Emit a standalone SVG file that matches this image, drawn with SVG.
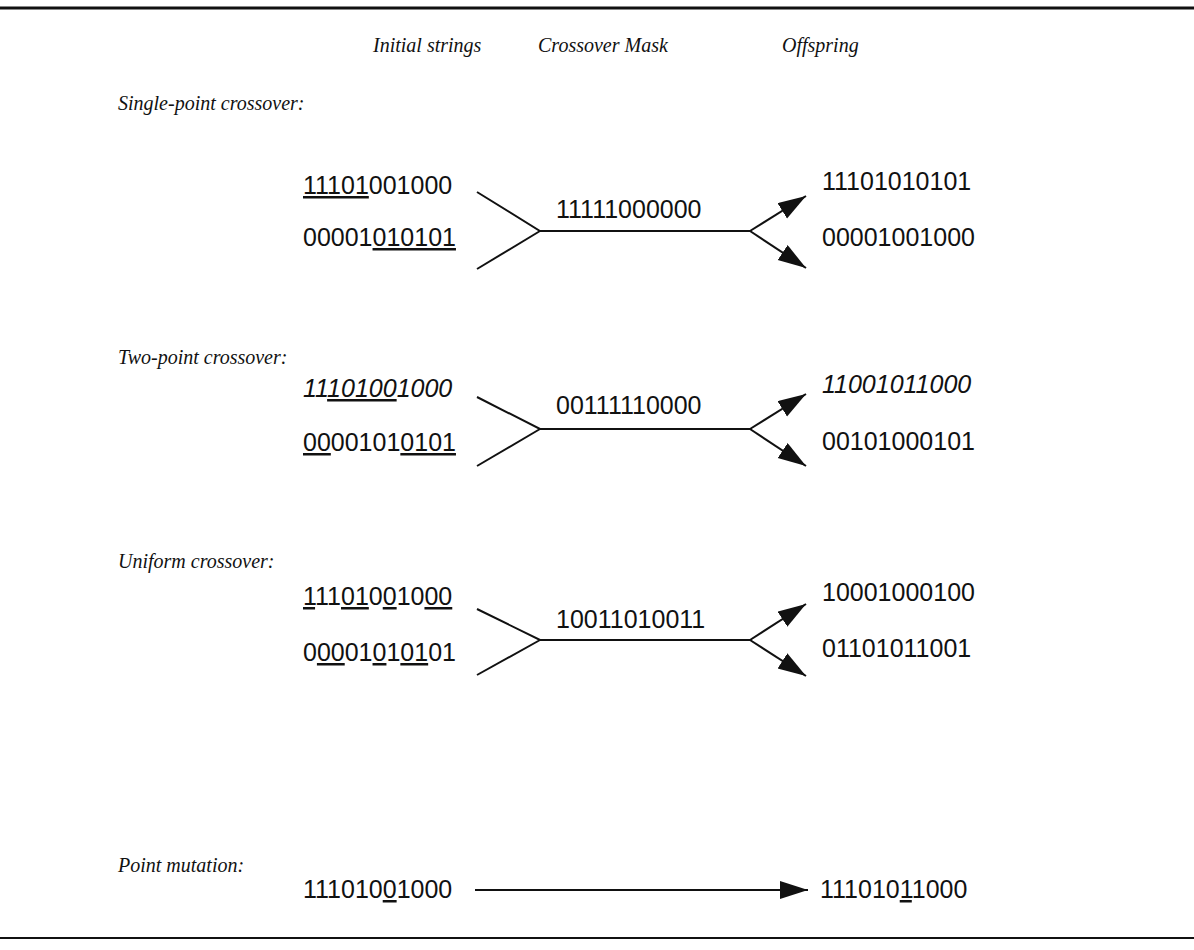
<svg xmlns="http://www.w3.org/2000/svg" width="1194" height="950" viewBox="0 0 1194 950">
<style>
.hdr{font-family:"Liberation Serif","Times New Roman",serif;font-style:italic;font-size:20px;fill:#111}
.bits{font-family:"Liberation Sans",Arial,sans-serif;font-size:25px;fill:#111}
.it{font-style:italic}
.u{text-decoration:underline}
.ln{stroke:#111;stroke-width:2;fill:none}
.rule{stroke:#111;fill:none}
</style>
<defs>
<marker id="ah" markerUnits="userSpaceOnUse" markerWidth="30" markerHeight="20" refX="28" refY="9" orient="auto">
<path d="M0,0 L28,9 L0,18 Z" fill="#111"/>
</marker>
</defs>
<rect width="1194" height="950" fill="#fff"/>
<line class="rule" x1="0" y1="8" x2="1194" y2="8" stroke-width="3"/>
<line class="rule" x1="0" y1="938" x2="1194" y2="938" stroke-width="2"/>
<g id="headers">
<text class="hdr" x="373" y="52">Initial strings</text>
<text class="hdr" x="538" y="52">Crossover Mask</text>
<text class="hdr" x="782" y="52">Offspring</text>
</g>
<g id="single">
<text class="hdr" x="118" y="110">Single-point crossover:</text>
<text class="bits" x="303" y="194"><tspan class="u">11101</tspan>001000</text>
<text class="bits" x="303" y="246">00001<tspan class="u">010101</tspan></text>
<text class="bits" x="556" y="218">11111000000</text>
<text class="bits" x="822" y="190">11101010101</text>
<text class="bits" x="822" y="246">00001001000</text>
</g>
<g id="twopoint">
<text class="hdr" x="118" y="364">Two-point crossover:</text>
<text class="bits it" x="303" y="397">11<tspan class="u">10100</tspan>1000</text>
<text class="bits" x="303" y="451"><tspan class="u">00</tspan>00101<tspan class="u">0101</tspan></text>
<text class="bits" x="556" y="414">00111110000</text>
<text class="bits it" x="822" y="393">11001011000</text>
<text class="bits" x="822" y="450">00101000101</text>
</g>
<g id="uniform">
<text class="hdr" x="118" y="568">Uniform crossover:</text>
<text class="bits" x="303" y="605"><tspan class="u">1</tspan>11<tspan class="u">01</tspan>0<tspan class="u">0</tspan>10<tspan class="u">00</tspan></text>
<text class="bits" x="303" y="661">0<tspan class="u">00</tspan>01<tspan class="u">0</tspan>1<tspan class="u">01</tspan>01</text>
<text class="bits" x="556" y="628">10011010011</text>
<text class="bits" x="822" y="601">10001000100</text>
<text class="bits" x="822" y="657">01101011001</text>
</g>
<g id="mutation">
<text class="hdr" x="118" y="872">Point mutation:</text>
<text class="bits" x="303" y="898">111010<tspan class="u">0</tspan>1000</text>
<text class="bits" x="820" y="898">111010<tspan class="u">1</tspan>1000</text>
</g>
<g id="connectors">
<polyline class="ln" points="477,192 540,231 750,231"/>
<line class="ln" x1="477" y1="269" x2="540" y2="231"/>
<line class="ln" x1="750" y1="231" x2="806" y2="196" marker-end="url(#ah)"/>
<line class="ln" x1="750" y1="231" x2="806" y2="268" marker-end="url(#ah)"/>
<polyline class="ln" points="477,397 540,429 750,429"/>
<line class="ln" x1="477" y1="466" x2="540" y2="429"/>
<line class="ln" x1="750" y1="429" x2="806" y2="394" marker-end="url(#ah)"/>
<line class="ln" x1="750" y1="429" x2="806" y2="466" marker-end="url(#ah)"/>
<polyline class="ln" points="477,609 540,640 750,640"/>
<line class="ln" x1="477" y1="675" x2="540" y2="640"/>
<line class="ln" x1="750" y1="640" x2="806" y2="604" marker-end="url(#ah)"/>
<line class="ln" x1="750" y1="640" x2="806" y2="676" marker-end="url(#ah)"/>
<line class="ln" x1="475" y1="890" x2="808" y2="890" marker-end="url(#ah)"/>
</g>
</svg>
